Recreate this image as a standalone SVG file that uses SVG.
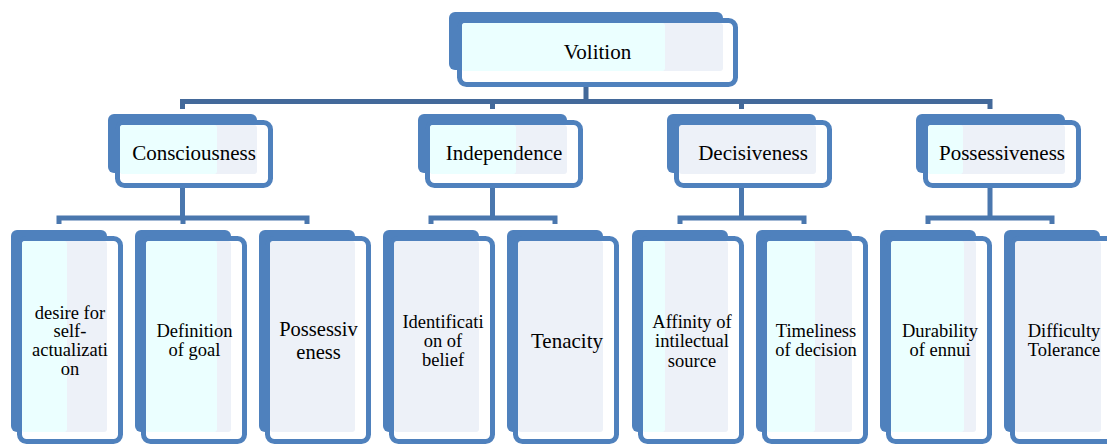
<svg xmlns="http://www.w3.org/2000/svg" width="1107" height="445" viewBox="0 0 1107 445">
<style>
.back{fill:#4F81BD}
.front{fill:#FFFFFF;stroke:#4F81BD;stroke-width:5}
.cy{fill:#EBFFFF}
.lv{fill:#EDF1F8}
.t{font-family:'Liberation Serif','DejaVu Serif','Times New Roman',serif;fill:#000;text-anchor:middle}
.t21{font-size:21px}
.t20{font-size:20.5px}
.t18{font-size:18.5px}
.c1{fill:none;stroke:#43699A;stroke-width:5}
.c2{fill:none;stroke:#4A77AE;stroke-width:5}
</style>
<rect width="1107" height="445" fill="#FFFFFF"/>
<g id="connectors">
<path class="c1" d="M586,87 V101.5 M182.5,109 V101.5 H990 V109 M492.5,101.5 V109 M741.5,101.5 V109"/>
<path class="c2" d="M182.5,188 V218 M59,224 V218 H307 V224 M183,218 V224"/>
<path class="c2" d="M492.5,188 V218 M431,224 V218 H555 V224"/>
<path class="c2" d="M741.5,188 V218 M680,224 V218 H804 V224"/>
<path class="c2" d="M990,188 V218 M928,224 V218 H1052 V224"/>
</g>
<g id="volition">
<rect class="back" x="449" y="12" width="274" height="58" rx="6"/>
<rect class="front" x="459.5" y="20.5" width="276" height="64" rx="7"/>
<rect class="lv" x="462" y="23" width="261" height="48" rx="3"/>
<rect class="cy" x="462" y="23" width="203" height="48" rx="3"/>
<text class="t t21" x="597.5" y="59">Volition</text>
</g>
<g id="consciousness">
<rect class="back" x="108" y="114" width="149" height="59" rx="6"/>
<rect class="front" x="117.5" y="122.5" width="153" height="63" rx="7"/>
<rect class="lv" x="120" y="125" width="137" height="49" rx="3"/>
<rect class="cy" x="120" y="125" width="97" height="49" rx="3"/>
<text class="t t21" x="194" y="160">Consciousness</text>
</g>
<g id="independence">
<rect class="back" x="418" y="114" width="149" height="59" rx="6"/>
<rect class="front" x="427.5" y="122.5" width="153" height="63" rx="7"/>
<rect class="lv" x="430" y="125" width="137" height="49" rx="3"/>
<rect class="cy" x="430" y="125" width="86" height="49" rx="3"/>
<text class="t t21" x="504" y="160">Independence</text>
</g>
<g id="decisiveness">
<rect class="back" x="667" y="114" width="149" height="59" rx="6"/>
<rect class="front" x="676.5" y="122.5" width="153" height="63" rx="7"/>
<rect class="lv" x="679" y="125" width="137" height="49" rx="3"/>
<text class="t t21" x="753" y="160">Decisiveness</text>
</g>
<g id="possessiveness">
<rect class="back" x="916" y="114" width="149" height="59" rx="6"/>
<rect class="front" x="925.5" y="122.5" width="153" height="63" rx="7"/>
<rect class="lv" x="928" y="125" width="137" height="49" rx="3"/>
<rect class="cy" x="928" y="125" width="35" height="49" rx="3"/>
<text class="t t21" x="1002" y="160">Possessiveness</text>
</g>
<g id="leaf-desire">
<rect class="back" x="11" y="230" width="96" height="202" rx="6"/>
<rect class="front" x="19.5" y="238.5" width="101" height="203" rx="7"/>
<rect class="lv" x="22" y="241" width="85" height="191" rx="3"/>
<rect class="cy" x="22" y="241" width="45" height="191" rx="3"/>
<text class="t t18" x="70" y="319">desire for</text>
<text class="t t18" x="70" y="337">self-</text>
<text class="t t18" x="70" y="356">actualizati</text>
<text class="t t18" x="70" y="375">on</text>
</g>
<g id="leaf-definition">
<rect class="back" x="135" y="230" width="96" height="202" rx="6"/>
<rect class="front" x="143.5" y="238.5" width="101" height="203" rx="7"/>
<rect class="lv" x="146" y="241" width="85" height="191" rx="3"/>
<rect class="cy" x="146" y="241" width="71" height="191" rx="3"/>
<text class="t t18" x="194.5" y="337">Definition</text>
<text class="t t18" x="194.5" y="356">of goal</text>
</g>
<g id="leaf-possessiveness">
<rect class="back" x="259" y="230" width="96" height="202" rx="6"/>
<rect class="front" x="267.5" y="238.5" width="101" height="203" rx="7"/>
<rect class="lv" x="270" y="241" width="85" height="191" rx="3"/>
<text class="t t20" x="318.5" y="336">Possessiv</text>
<text class="t t20" x="318.5" y="359">eness</text>
</g>
<g id="leaf-identification">
<rect class="back" x="383" y="230" width="96" height="202" rx="6"/>
<rect class="front" x="391.5" y="238.5" width="101" height="203" rx="7"/>
<rect class="lv" x="394" y="241" width="85" height="191" rx="3"/>
<text class="t t18" x="443" y="328">Identificati</text>
<text class="t t18" x="443" y="347">on of</text>
<text class="t t18" x="443" y="366">belief</text>
</g>
<g id="leaf-tenacity">
<rect class="back" x="507" y="230" width="96" height="202" rx="6"/>
<rect class="front" x="515.5" y="238.5" width="101" height="203" rx="7"/>
<rect class="lv" x="518" y="241" width="85" height="191" rx="3"/>
<text class="t t21" x="567" y="348">Tenacity</text>
</g>
<g id="leaf-affinity">
<rect class="back" x="632" y="230" width="96" height="202" rx="6"/>
<rect class="front" x="640.5" y="238.5" width="101" height="203" rx="7"/>
<rect class="lv" x="643" y="241" width="85" height="191" rx="3"/>
<rect class="cy" x="643" y="241" width="22" height="191" rx="3"/>
<text class="t t18" x="692" y="328">Affinity of</text>
<text class="t t18" x="692" y="347">intilectual</text>
<text class="t t18" x="692" y="367">source</text>
</g>
<g id="leaf-timeliness">
<rect class="back" x="756" y="230" width="96" height="202" rx="6"/>
<rect class="front" x="764.5" y="238.5" width="101" height="203" rx="7"/>
<rect class="lv" x="767" y="241" width="85" height="191" rx="3"/>
<rect class="cy" x="767" y="241" width="48" height="191" rx="3"/>
<text class="t t18" x="816" y="337">Timeliness</text>
<text class="t t18" x="816" y="356">of decision</text>
</g>
<g id="leaf-durability">
<rect class="back" x="880" y="230" width="96" height="202" rx="6"/>
<rect class="front" x="888.5" y="238.5" width="101" height="203" rx="7"/>
<rect class="lv" x="891" y="241" width="85" height="191" rx="3"/>
<rect class="cy" x="891" y="241" width="73" height="191" rx="3"/>
<text class="t t18" x="940" y="337">Durability</text>
<text class="t t18" x="940" y="356">of ennui</text>
</g>
<g id="leaf-difficulty">
<rect class="back" x="1004" y="230" width="96" height="202" rx="6"/>
<rect class="front" x="1012.5" y="238.5" width="101" height="203" rx="7"/>
<rect class="lv" x="1015" y="241" width="86" height="191" rx="3"/>
<text class="t t18" x="1064" y="337">Difficulty</text>
<text class="t t18" x="1064" y="356">Tolerance</text>
</g>
</svg>
